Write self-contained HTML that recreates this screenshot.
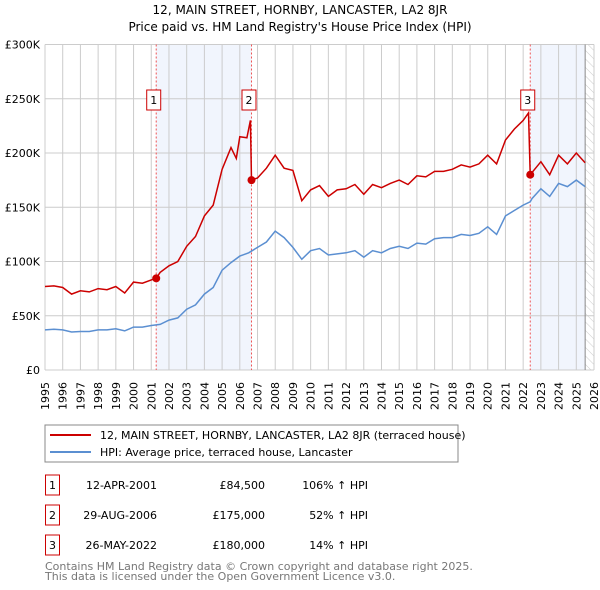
<!DOCTYPE html>
<html><head><meta charset="utf-8"><style>
body{margin:0;background:#fff}
svg{display:block;font-family:"DejaVu Sans","Liberation Sans",sans-serif}
</style></head><body>
<svg id="c" width="600" height="590" viewBox="0 0 600 590">
<defs><pattern id="hatch" width="6" height="6" patternUnits="userSpaceOnUse" patternTransform="rotate(-45)"><line x1="0" y1="0" x2="0" y2="6" stroke="#ccc" stroke-width="1"/></pattern></defs>
<text x="300" y="14" text-anchor="middle" font-size="12">12, MAIN STREET, HORNBY, LANCASTER, LA2 8JR</text>
<text x="300" y="31" text-anchor="middle" font-size="12">Price paid vs. HM Land Registry's House Price Index (HPI)</text>
<g id="plot"></g>
<rect x="45" y="425" width="413" height="37" fill="none" stroke="#888"/>
<line x1="50" y1="435" x2="91" y2="435" stroke="#cc0000" stroke-width="2"/>
<text x="100" y="439" font-size="11">12, MAIN STREET, HORNBY, LANCASTER, LA2 8JR (terraced house)</text>
<line x1="50" y1="452" x2="91" y2="452" stroke="#5b8fd1" stroke-width="2"/>
<text x="100" y="456" font-size="11">HPI: Average price, terraced house, Lancaster</text>
<g id="table" font-size="11"></g>
<text x="45" y="570" font-size="11" fill="#777">Contains HM Land Registry data © Crown copyright and database right 2025.</text>
<text x="45" y="580" font-size="11" fill="#777">This data is licensed under the Open Government Licence v3.0.</text>
</svg>
<script>
const hpiYears=[1995,1995.5,1996,1996.5,1997,1997.5,1998,1998.5,1999,1999.5,2000,2000.5,2001,2001.5,2002,2002.5,2003,2003.5,2004,2004.5,2005,2005.5,2006,2006.5,2007,2007.5,2008,2008.5,2009,2009.5,2010,2010.5,2011,2011.5,2012,2012.5,2013,2013.5,2014,2014.5,2015,2015.5,2016,2016.5,2017,2017.5,2018,2018.5,2019,2019.5,2020,2020.5,2021,2021.5,2022,2022.4,2022.5,2023,2023.5,2024,2024.5,2025,2025.5];
const hpiValues=[37,37.5,37,35,35.5,35.5,37,37,38,36,39.5,39.5,41,42,46,48,56,60,70,76,92,99,105,108,113,118,128,122,113,102,110,112,106,107,108,110,104,110,108,112,114,112,117,116,121,122,122,125,124,126,132,125,142,147,152,155,158,167,160,172,169,175,169];
const priceYears=[1995,1995.5,1996,1996.5,1997,1997.5,1998,1998.5,1999,1999.5,2000,2000.5,2001,2001.28,2001.5,2002,2002.5,2003,2003.5,2004,2004.5,2005,2005.5,2005.8,2006,2006.4,2006.6,2006.66,2007,2007.5,2008,2008.5,2009,2009.5,2010,2010.5,2011,2011.5,2012,2012.5,2013,2013.5,2014,2014.5,2015,2015.5,2016,2016.5,2017,2017.5,2018,2018.5,2019,2019.5,2020,2020.5,2021,2021.5,2022,2022.3,2022.4,2023,2023.5,2024,2024.5,2025,2025.5];
const priceValues=[77,77.5,76,70,73,72,75,74,77,71,81,80,83,84.5,90,96,100,114,123,142,152,185,205,195,215,214,230,175,177,186,198,186,184,156,166,170,160,166,167,171,162,171,168,172,175,171,179,178,183,183,185,189,187,190,198,190,212,222,230,237,180,192,180,198,190,200,191];
const saleYears=[2001.28,2006.66,2022.4];
const saleValues=[84.5,175,180];
const saleLabels=["1","2","3"];
const saleDates=["12-APR-2001","29-AUG-2006","26-MAY-2022"];
const salePrices=["£84,500","£175,000","£180,000"];
const saleHpi=["106% ↑ HPI","52% ↑ HPI","14% ↑ HPI"];
const yTicks=[0,50,100,150,200,250,300];
const yTickLabels=["£0","£50K","£100K","£150K","£200K","£250K","£300K"];
const xTicks=[];for(let y=1995;y<=2026;y++)xTicks.push(y);

const X0=45,X1=594,Y0=370,Y1=44.5;
const xs=y=>X0+(y-1995)/(2026-1995)*(X1-X0);
const ys=v=>Y0-v/300*(Y0-Y1);
const NS="http://www.w3.org/2000/svg";
const plot=document.getElementById('plot');
function mk(tag,attrs,parent){const e=document.createElementNS(NS,tag);for(const k in attrs)e.setAttribute(k,attrs[k]);(parent||plot).appendChild(e);return e;}

let s1=mk('rect',{x:xs(saleYears[0]),y:Y1,width:xs(saleYears[1])-xs(saleYears[0]),height:Y0-Y1,fill:'#eef3fc',opacity:0.8});


let s2=mk('rect',{x:xs(saleYears[2]),y:Y1,width:xs(2025.5)-xs(saleYears[2]),height:Y0-Y1,fill:'#eef3fc',opacity:0.8});


let hz=mk('rect',{x:xs(2025.5),y:Y1,width:X1-xs(2025.5),height:Y0-Y1,fill:'url(#hatch)'});



xTicks.forEach(t=>{
  let l=mk('line',{x1:xs(t),x2:xs(t),y1:Y1,y2:Y0,stroke:'#cccccc'});
  
  
  let tx=mk('text',{x:0,y:0,'font-size':11,'text-anchor':'end',transform:'translate('+(xs(t)+4)+','+(Y0+12)+') rotate(-90)'});
  tx.textContent=t;
  
  
});
yTicks.forEach((t,i)=>{
  let l=mk('line',{x1:X0,x2:X1,y1:ys(t),y2:ys(t),stroke:'#cccccc'});
  
  
  let tx=mk('text',{x:40,y:ys(t)+4,'font-size':11,'text-anchor':'end'});
  tx.textContent=yTickLabels[i];
  
  
});
let ed=mk('line',{x1:xs(2025.5),x2:xs(2025.5),y1:Y1,y2:Y0,stroke:'#888'});



saleYears.forEach((y,i)=>{
  let l=mk('line',{x1:xs(y),x2:xs(y),y1:Y1,y2:Y0,stroke:'#e55',"stroke-dasharray":'2,2'});
  
  
});

function path(xa,va){return xa.map((y,i)=>(i?'L':'M')+xs(y).toFixed(1)+','+ys(va[i]).toFixed(1)).join('');}
let hp=mk('path',{d:path(hpiYears,hpiValues),fill:'none',stroke:'#5b8fd1','stroke-width':1.5});


let pp=mk('path',{d:path(priceYears,priceValues),fill:'none',stroke:'#cc0000','stroke-width':1.5});



saleYears.forEach((y,i)=>{
  let c=mk('circle',{cx:xs(y),cy:ys(saleValues[i]),r:4,fill:'#cc0000'});
  
  
  let b=mk('rect',{x:xs(y)-9.5,y:90,width:14,height:20,fill:'#fff',stroke:'#cc0000'});
  
  
  let t=mk('text',{x:xs(y)-2.5,y:104,'font-size':11,'text-anchor':'middle'});
  t.textContent=saleLabels[i];
  
  
});

const table=document.getElementById('table');
saleLabels.forEach((lab,i)=>{
  const cy=483+i*30;
  let b=mk('rect',{x:45.5,y:cy-8,width:14,height:20,fill:'#fff',stroke:'#cc0000'},table);
  
  
  let t=mk('text',{x:52.5,y:cy+6,'text-anchor':'middle'},table);t.textContent=lab;
  
  
  let d=mk('text',{x:157,y:cy+6,'text-anchor':'end'},table);d.textContent=saleDates[i];
  
  
  let p=mk('text',{x:265,y:cy+6,'text-anchor':'end'},table);p.textContent=salePrices[i];
  
  
  let h=mk('text',{x:368,y:cy+6,'text-anchor':'end'},table);h.textContent=saleHpi[i];
  
  
});
</script>
</body></html>
